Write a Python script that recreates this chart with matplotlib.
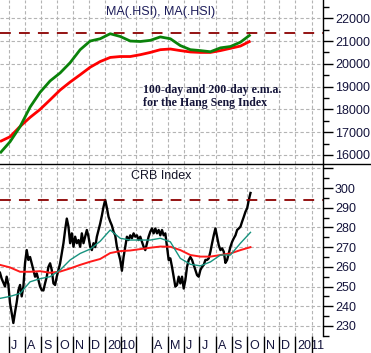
import matplotlib
matplotlib.use("Agg")
import matplotlib.pyplot as plt
from matplotlib.ticker import MultipleLocator
from matplotlib.transforms import ScaledTranslation
from matplotlib.lines import Line2D
import pandas as pd

# ---------------- data ----------------
hsi_ma100 = [16080, 16580, 17240, 18100, 18750, 19250, 19600, 20050, 20620,
             21000, 21100, 21320, 21200, 21000, 20980, 21030, 21180, 21100,
             20800, 20620, 20580, 20530, 20700, 20760, 20950, 21280]
hsi_ma200 = [16590, 16800, 17250, 17650, 18000, 18420, 18850, 19200, 19520,
             19850, 20100, 20280, 20320, 20320, 20400, 20500, 20620, 20650,
             20580, 20520, 20500, 20500, 20580, 20680, 20780, 21000]
hsi_level = 21350

crb = [257, 254, 252, 250, 255, 251, 241.6, 236.5, 231.5, 237, 242, 248,
       250.8, 245, 250, 262, 268.5, 263.5, 265, 261.8, 258.4, 255, 256.7,
       253.3, 250, 248.2, 248, 251.7, 255, 260, 261.8, 258.4, 251.6, 250.8,
       255, 258.4, 261.8, 266.8, 272, 278.7, 284.5, 280.4, 272, 277, 270.2,
       275.3, 272, 273.6, 270.2, 277, 272, 275.3, 278.7, 275.3, 270.2, 268.5,
       272, 270, 275.3, 278.7,
       282, 286, 290.5, 294, 290, 285.4, 283, 281, 277.8, 276, 270.2, 266.8,
       263.5, 258, 265, 270.2, 275.3, 273.6, 276, 274.5, 277, 275.3, 276,
       273.6, 275.3, 272.7, 270.2, 268.5, 272, 275.3, 277.8, 279.5, 277,
       279.5, 277, 278.7, 276, 278.7, 276, 277, 270.2, 263.5, 264.3, 260,
       255, 250, 250.8, 255, 251.6, 255, 249, 253.3, 260, 263.5, 265, 263.5,
       261, 258.4, 255.8, 255,
       258.4, 260, 261, 263.5, 263.5, 264.3, 267.7, 272, 276, 279.5, 275.3,
       271, 268.5, 269.4, 267.7, 262, 263.5, 266.8, 270.2, 272.7, 274.5, 276,
       278.7, 279.5, 280.4, 283, 285.4, 288, 289.7, 294, 297.5]
crb_ma_short = [244, 245, 246.5, 252.4, 254, 255, 258.4, 263.5, 266.8, 269,
                273, 278.7, 274.5, 273.6, 273.6, 273.6, 274.5, 272.7, 264.3,
                261.3, 260.5, 262.5, 266, 266, 272, 277.5]
crb_ma_long = [261, 259.7, 257.5, 257.5, 257.8, 257, 257.6, 259.2, 261, 262.6,
               264, 267, 268, 268.3, 269, 269.7, 270.3, 270.2, 268.5, 266,
               265.2, 265.2, 266, 266.8, 268.5, 270]
crb_level = 294

series_start, series_end = "2009-06-14", "2010-10-07"
x_start, x_end = "2009-06-14", "2011-02-22"
month_labels = ["J", "A", "S", "O", "N", "D", "2010", "", "", "A", "M", "J",
                "J", "A", "S", "O", "N", "D", "2011", ""]
hsi_ticks = [16000, 17000, 18000, 19000, 20000, 21000, 22000]
crb_ticks = [230, 240, 250, 260, 270, 280, 290, 300, 310]
crb_tick_labels = ["230", "240", "250", "260", "270", "280", "290", "300", ""]

top_dates = pd.date_range(series_start, series_end, periods=len(hsi_ma100))
crb_dates = pd.date_range(series_start, series_end, periods=len(crb))
ma_dates = pd.date_range(series_start, series_end, periods=len(crb_ma_short))
month_ticks = pd.date_range("2009-07-01", "2011-02-01", freq="MS")

# ---------------- figure ----------------
W, H = 371, 353
fig = plt.figure(figsize=(W / 100, H / 100), dpi=100)
fig.patch.set_facecolor("white")

right = 322.5 / W
sep = (H - 164) / H
bot = (H - 336) / H
ax1 = fig.add_axes([0, sep, right, 1 - sep])
ax2 = fig.add_axes([0, bot, right, sep - bot], sharex=ax1)

lab_color = "#14143c"
tick_font = dict(family="Liberation Sans", size=9)
grid_kw = dict(color="#b4b4b4", linestyle=(0, (3, 2)), linewidth=0.8)

for ax in (ax1, ax2):
    for s in ("left", "top", "bottom"):
        ax.spines[s].set_visible(False)
    ax.spines["right"].set_color("black")
    ax.spines["right"].set_linewidth(1.0)
    ax.yaxis.tick_right()
    ax.tick_params(axis="y", which="major", direction="out", length=7,
                   width=1, pad=2, colors="black", labelcolor=lab_color,
                   labelsize=9)
    ax.tick_params(axis="y", which="minor", direction="out", length=4,
                   width=1, colors="black")
    ax.set_xticks(month_ticks)
    ax.grid(True, which="major", **grid_kw)
    ax.set_axisbelow(True)

# top panel
ax1.plot(top_dates, hsi_ma200, color="#ff0000", lw=2.0, solid_capstyle="butt")
ax1.plot(top_dates, hsi_ma100, color="#0a820a", lw=2.0, solid_capstyle="butt")
ax1.axhline(hsi_level, color="#8b0000", lw=1.3, linestyle=(0, (6, 4.5)))
ax1.set_ylim(15605, 22800)
ax1.set_yticks(hsi_ticks)
ax1.yaxis.set_minor_locator(MultipleLocator(500))
ax1.tick_params(axis="x", length=0, labelbottom=False)
for t in ax1.get_yticklabels():
    t.set_fontfamily("Liberation Sans")
ax1.text(0.499, 0.927, "MA(.HSI), MA(.HSI)", transform=ax1.transAxes,
         ha="center", va="center", color="#1c1c5a", **tick_font)
ax1.text(0.444, 0.412, "100-day and 200-day e.m.a.\nfor the Hang Seng Index",
         transform=ax1.transAxes, ha="left", va="center", color="#15153a",
         family="Liberation Serif", weight="bold", size=8.6, linespacing=1.12)

# bottom panel
ax2.plot(crb_dates, crb, color="black", lw=1.7)
ax2.plot(ma_dates, crb_ma_long, color="#ff1a1a", lw=1.4)
ax2.plot(ma_dates, crb_ma_short, color="#17937f", lw=1.0)
ax2.axhline(crb_level, color="#8b0000", lw=1.3, linestyle=(0, (6, 4.5)))
ax2.set_ylim(224.9, 312.2)
ax2.set_yticks(crb_ticks)
ax2.set_yticklabels(crb_tick_labels)
ax2.yaxis.set_minor_locator(MultipleLocator(5))
for t in ax2.get_yticklabels():
    t.set_fontfamily("Liberation Sans")
ax2.text(0.499, 0.930, "CRB Index", transform=ax2.transAxes, ha="center",
         va="center", color="#141428", **tick_font)

ax2.set_xlim(pd.Timestamp(x_start), pd.Timestamp(x_end))
ax2.set_xticklabels(month_labels)
ax2.tick_params(axis="x", which="major", direction="out", length=12.5,
                width=1, colors="black", labelcolor=lab_color, labelsize=9,
                pad=-9.5)
offset = ScaledTranslation(2 / 100, 0, fig.dpi_scale_trans)
for t in ax2.get_xticklabels():
    t.set_horizontalalignment("left")
    t.set_fontfamily("Liberation Sans")
    t.set_transform(t.get_transform() + offset)

# separator between panels, spanning the whole width
fig.add_artist(Line2D([0, 1], [sep, sep], color="black", lw=1.0,
                      transform=fig.transFigure))

fig.savefig("out.png", dpi=100, facecolor="white")
